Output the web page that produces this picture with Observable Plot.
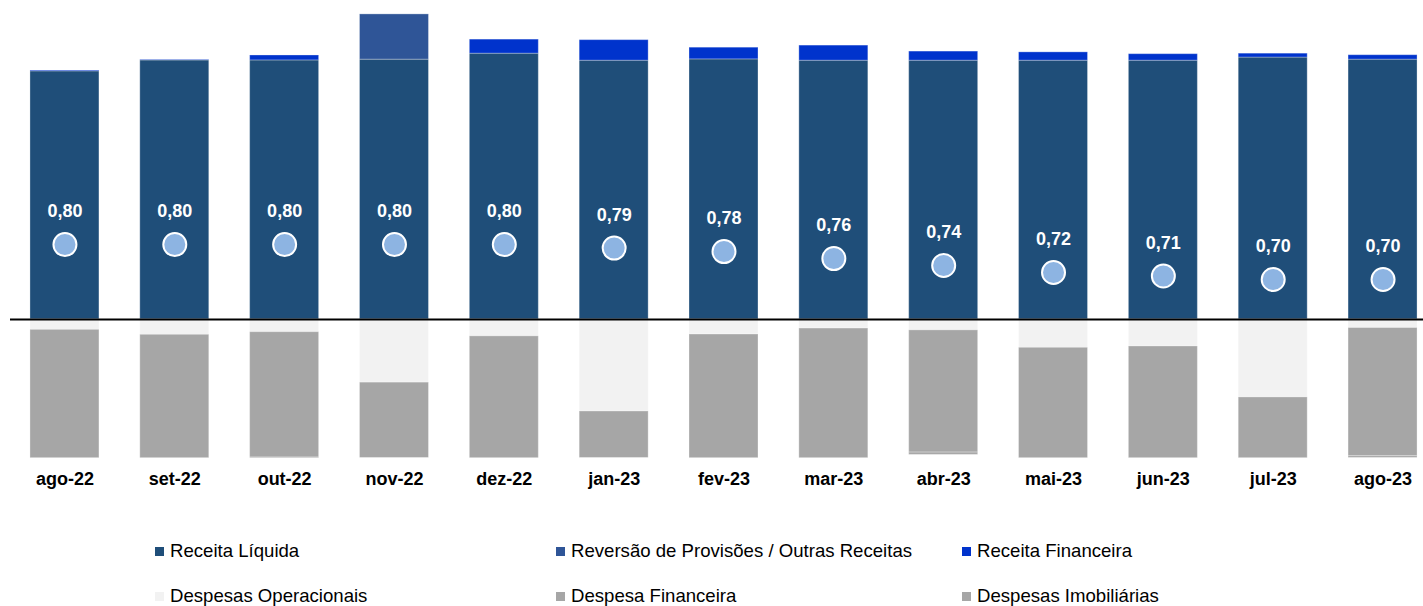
<!DOCTYPE html>
<html>
<head>
<meta charset="utf-8">
<script src="https://cdn.jsdelivr.net/npm/d3@7"></script>
<script src="https://cdn.jsdelivr.net/npm/@observablehq/plot@0.6"></script>
<style>
  html, body { margin: 0; padding: 0; background: #fff; }
  #wrap { position: relative; width: 1423px; height: 606px; font-family: "Liberation Sans", Arial, sans-serif; }
  #legend { position: absolute; left: 155px; top: 541px; display: grid; grid-template-columns: 401px 406px auto; row-gap: 25px; font-size: 18.6px; color: #000; }
  .item { display: flex; align-items: center; height: 20px; white-space: nowrap; }
  .sw { width: 9px; height: 9px; margin-right: 6px; flex: none; }
</style>
</head>
<body>
<div id="wrap"><div id="chart"></div><div id="legend"></div></div>
<script>
const months = ["ago-22","set-22","out-22","nov-22","dez-22","jan-23","fev-23","mar-23","abr-23","mai-23","jun-23","jul-23","ago-23"];
const seriesNames = ["Receita Líquida","Reversão de Provisões / Outras Receitas","Receita Financeira","Despesas Operacionais","Despesa Financeira","Despesas Imobiliárias"];
const seriesColors = ["#1F4E79","#2F5597","#0033CC","#F2F2F2","#A6A6A6","#A6A6A6"];

const receitaLiquida = [95.4, 99.6, 99.6, 99.9, 102.2, 99.5, 100.0, 99.5, 99.5, 99.5, 99.5, 100.7, 99.9];
const reversaoOutras = [0, 0, 0, 17.4, 0, 0, 0, 0, 0, 0, 0, 0, 0];
const receitaFinanceira = [0.3, 0.2, 1.9, 0, 5.4, 7.9, 4.5, 5.8, 3.5, 3.2, 2.5, 1.5, 1.7];
const despesasOperacionais = [-4.0, -5.9, -4.9, -24.3, -6.5, -35.4, -5.8, -3.5, -4.2, -10.9, -10.4, -30.0, -3.3];
const despesaFinanceira = [-49.4, -47.5, -48.2, -29.0, -46.9, -17.9, -47.6, -49.9, -47.0, -42.5, -43.0, -23.4, -49.3];
const despesasImobiliarias = [0, 0, -0.3, 0, 0, 0, 0, 0, -0.9, 0, 0, 0, -0.7];
const dividendo = [0.80, 0.80, 0.80, 0.80, 0.80, 0.79, 0.78, 0.76, 0.74, 0.72, 0.71, 0.70, 0.70];

const seriesValues = [receitaLiquida, reversaoOutras, receitaFinanceira, despesasOperacionais, despesaFinanceira, despesasImobiliarias];
const rows = [];
seriesNames.forEach((s, i) => months.forEach((m, j) => rows.push({month: m, series: s, value: seriesValues[i][j]})));
const dots = months.map((m, j) => ({month: m, value: dividendo[j]}));

const yDomain = [-53.4, 118.8];
// secondary axis for the dividend-per-share markers
const y2 = d3.scaleLinear().domain([0.189, 1.469]).range(yDomain);

const chart = Plot.plot({
  width: 1423,
  height: 500,
  marginLeft: 10,
  marginRight: 0,
  marginTop: 10,
  marginBottom: 42.2,
  style: {fontFamily: "'Liberation Sans', Arial, sans-serif", color: "#000", background: "#fff"},
  x: {domain: months, paddingInner: 0.372, paddingOuter: 0.118, align: 0.77, round: false, label: null},
  y: {domain: yDomain, axis: null},
  color: {domain: seriesNames, range: seriesColors},
  marks: [
    Plot.barY(rows, Plot.stackY({order: seriesNames}, {x: "month", y: "value", fill: "series", stroke: "#fff", strokeOpacity: 0.3, strokeWidth: 1, clip: true})),
    Plot.ruleY([0], {stroke: "#000", strokeWidth: 2}),
    Plot.dot(dots, {x: "month", y: d => y2(d.value), r: 11.5, fill: "#8DB4E2", stroke: "#fff", strokeWidth: 2}),
    Plot.text(dots, {x: "month", y: d => y2(d.value), text: d => d.value.toFixed(2).replace(".", ","), dy: -33, fill: "#fff", fontSize: 18, fontWeight: "bold"}),
    Plot.axisX({tickSize: 0, tickPadding: 14, fontSize: 18, fontWeight: "bold", label: null})
  ]
});
document.getElementById("chart").appendChild(chart);

const legend = document.getElementById("legend");
seriesNames.forEach((s, i) => {
  const it = document.createElement("div");
  it.className = "item";
  const sw = document.createElement("span");
  sw.className = "sw";
  sw.style.background = seriesColors[i];
  const t = document.createElement("span");
  t.textContent = s;
  it.appendChild(sw); it.appendChild(t);
  legend.appendChild(it);
});
</script>
</body>
</html>
